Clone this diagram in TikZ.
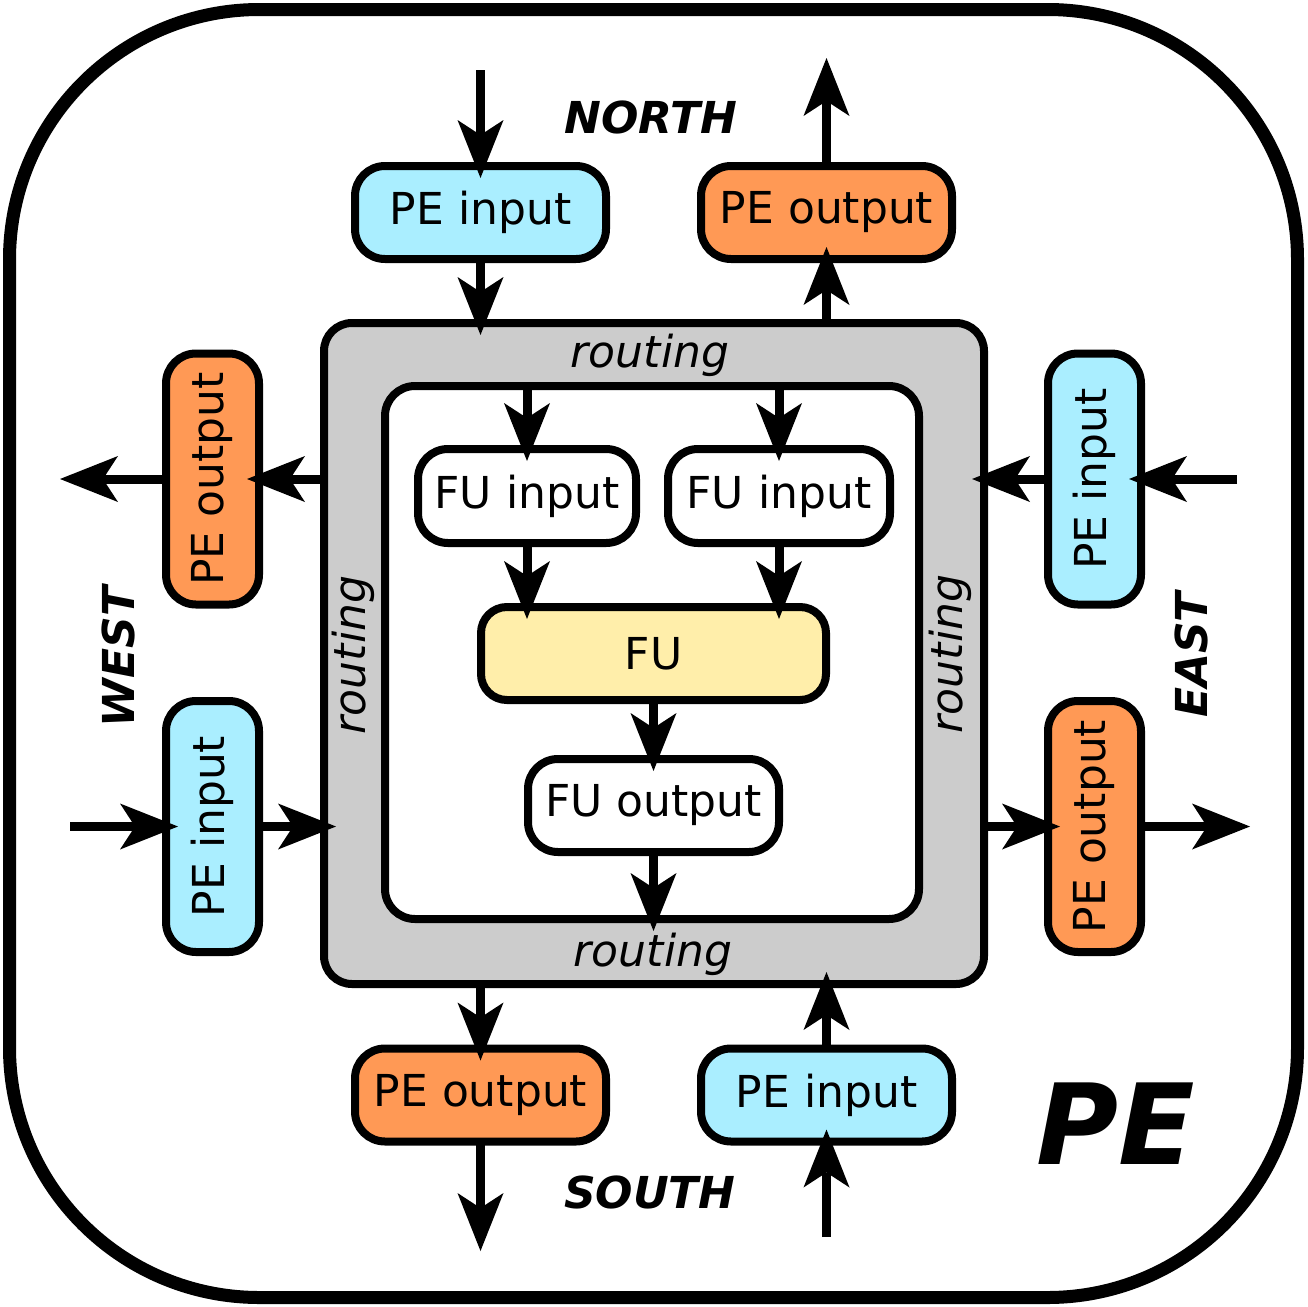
\documentclass[tikz,border=0pt]{standalone}
\usepackage{fontspec}
\usepackage{graphicx}
\setmainfont{DejaVu Sans}[ItalicFont={DejaVu Sans Oblique},BoldFont={DejaVu Sans Bold},BoldItalicFont={DejaVu Sans Bold Oblique}]
\usetikzlibrary{arrows.meta}
\definecolor{peinc}{HTML}{AAEEFF}
\definecolor{peoutc}{HTML}{FF9955}
\definecolor{fuc}{HTML}{FFEEAA}
\definecolor{grayc}{HTML}{CCCCCC}
\newcommand{\vtext}[1]{\rotatebox{90}{#1}}
\begin{document}
\begin{tikzpicture}[x=1pt,y=-1pt,
  box/.style={draw, line width=8pt, rounded corners=30pt, inner sep=0pt, outer sep=0pt, font=\fontsize{44}{52}\selectfont},
  pein/.style={box, fill=peinc},
  peout/.style={box, fill=peoutc},
  hbox/.style={minimum width=251pt, minimum height=93pt},
  vbox/.style={minimum width=93pt, minimum height=251pt},
  arr/.style={line width=9pt, -{Stealth[length=58pt,width=46pt,inset=15pt,line width=0pt]}},
  into/.style={arr, shorten >=-12pt},
  dirlabel/.style={font=\fontsize{44}{52}\selectfont\bfseries\itshape, inner sep=0pt},
  rout/.style={font=\fontsize{44}{52}\selectfont\itshape, anchor=base, inner sep=0pt},
]
\useasboundingbox (0,0) rectangle (1307,1307);
\node[draw, line width=13pt, rounded corners=250pt, minimum size=1288pt, inner sep=0pt, outer sep=0pt] (frame) at (653.5,653.5) {};

% routing and core
\node[box, fill=grayc, rounded corners=28pt, minimum width=660pt, minimum height=661pt] (routing) at (654,653.5) {};
\node[box, fill=white, minimum width=534pt, minimum height=533pt] (core) at (652,652.5) {};
\node[rout] (rtop) at (650,367) {routing};
\node[rout] (rbot) at (653,966) {routing};
\node[rout, rotate=90] (rleft) at (365,655) {routing};
\node[rout, rotate=90] (rright) at (962,654) {routing};

% FU parts
\node[box, fill=white, minimum width=218pt, minimum height=94pt] (fui1) at (527,496) {FU input};
\node[box, fill=white, minimum width=222pt, minimum height=94pt] (fui2) at (779,496) {FU input};
\node[box, fill=fuc, rounded corners=26pt, minimum width=345pt, minimum height=93pt] (fu) at (653.5,653.5) {FU};
\node[box, fill=white, minimum width=251pt, minimum height=93pt] (fuo) at (653.5,805.5) {FU output};

% PE inputs/outputs
\node[pein, hbox] (nin) at (480.5,212.5) {PE input};
\node[peout, hbox] (nout) at (826.5,212.5) {PE output};
\node[peout, vbox] (wout) at (212.5,479) {\vtext{PE output}};
\node[pein, vbox] (win) at (212.5,826.5) {\vtext{PE input}};
\node[pein, vbox] (ein) at (1094.5,479) {\vtext{PE input}};
\node[peout, vbox] (eout) at (1094.5,826.5) {\vtext{PE output}};
\node[peout, hbox] (sout) at (480.5,1095) {PE output};
\node[pein, hbox] (sin) at (826.5,1095) {PE input};

% direction labels
\node[dirlabel] (north) at (651,117) {NORTH};
\node[dirlabel] (south) at (650,1192) {SOUTH};
\node[dirlabel, rotate=90] (west) at (118,657) {WEST};
\node[dirlabel, rotate=90] (east) at (1191,655) {EAST};
\node[font=\fontsize{112}{130}\selectfont\bfseries\itshape, inner sep=0pt] (pelabel) at (1116,1124) {PE};

% free ends
\coordinate (nIn0) at (480.5,70);
\coordinate (nOut1) at (826.5,58);
\coordinate (wOut1) at (60,479);
\coordinate (wIn0) at (70,826.5);
\coordinate (eIn0) at (1237,479);
\coordinate (eOut1) at (1250,826.5);
\coordinate (sOut1) at (480.5,1251);
\coordinate (sIn0) at (826.5,1237);

% north
\draw[into] (nIn0) -- (nin.north);
\draw[into] (nin.south) -- (nin.south |- routing.north);
\draw[into] (nout.south |- routing.north) -- (nout.south);
\draw[arr] (nout.north) -- (nOut1);
% core
\draw[into] (fui1.north |- core.north) -- (fui1.north);
\draw[into] (fui2.north |- core.north) -- (fui2.north);
\draw[into] (fui1.south) -- (fui1.south |- fu.north);
\draw[into] (fui2.south) -- (fui2.south |- fu.north);
\draw[into] (fu.south) -- (fuo.north);
\draw[into] (fuo.south) -- (fuo.south |- core.south);
% west
\draw[into] (wout.east -| routing.west) -- (wout.east);
\draw[arr] (wout.west) -- (wOut1);
\draw[into] (wIn0) -- (win.west);
\draw[into] (win.east) -- (win.east -| routing.west);
% east
\draw[into] (eIn0) -- (ein.east);
\draw[into] (ein.west) -- (ein.west -| routing.east);
\draw[into] (eout.west -| routing.east) -- (eout.west);
\draw[arr] (eout.east) -- (eOut1);
% south
\draw[into] (sout.north |- routing.south) -- (sout.north);
\draw[arr] (sout.south) -- (sOut1);
\draw[into] (sIn0) -- (sin.south);
\draw[into] (sin.north) -- (sin.north |- routing.south);
\end{tikzpicture}
\end{document}
